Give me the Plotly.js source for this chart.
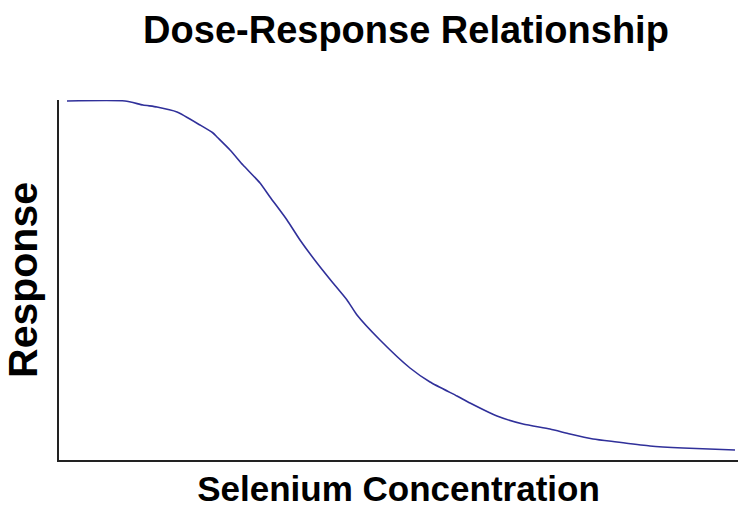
<!DOCTYPE html>
<html>
<head>
<meta charset="utf-8">
<script src="https://cdn.plot.ly/plotly-3.0.1.min.js"></script>
<style>html,body{margin:0;padding:0;background:#fff;}#chart{width:738px;height:508px;}</style>
</head>
<body>
<div id="chart"></div>
<script>
// Dose (arbitrary units) and response values
const dose = [8, 66, 84, 98, 118, 141, 154, 158, 171, 184, 201, 211, 228, 241, 258, 274, 288, 298, 321, 351, 371, 398, 411, 438, 464, 491, 511, 534, 558, 591, 624, 676];
const response = [359, 359, 355, 353, 348, 335, 327, 323, 310, 295, 277, 263, 240, 220, 197, 177, 160, 145, 120, 92, 78, 64, 57, 44, 36, 31, 26, 21, 18, 14, 12, 10];

const titleText = "Dose-Response Relationship";
const xTitle = "Selenium Concentration";
const yTitle = "Response";

const fontFam = "Liberation Sans, Arial, Helvetica, sans-serif";

Plotly.newPlot("chart", [{
  x: dose,
  y: response,
  type: "scatter",
  mode: "lines",
  line: {color: "#30309A", width: 1.6, shape: "spline", smoothing: 0.6},
  hoverinfo: "skip"
}], {
  width: 738,
  height: 508,
  margin: {l: 59, r: 0, t: 100, b: 48, pad: 0},
  paper_bgcolor: "#ffffff",
  plot_bgcolor: "#ffffff",
  showlegend: false,
  title: {
    text: "<b>" + titleText + "</b>",
    font: {family: fontFam, size: 38, color: "#000"},
    x: 406 / 738, xanchor: "center", xref: "container",
    y: 1 - 30 / 508, yanchor: "middle", yref: "container"
  },
  xaxis: {
    range: [0, 679],
    showline: true, linecolor: "#222", linewidth: 2,
    showgrid: false, zeroline: false, showticklabels: false, ticks: "",
    title: {text: "<b>" + xTitle + "</b>", font: {family: fontFam, size: 35, color: "#000"}, standoff: 19}
  },
  yaxis: {
    range: [0, 360],
    showline: true, linecolor: "#222", linewidth: 2,
    showgrid: false, zeroline: false, showticklabels: false, ticks: "",
    title: {text: "<b>" + yTitle + "</b>", font: {family: fontFam, size: 41, color: "#000"}, standoff: 12}
  }
}, {displayModeBar: false, staticPlot: true});
</script>
</body>
</html>
